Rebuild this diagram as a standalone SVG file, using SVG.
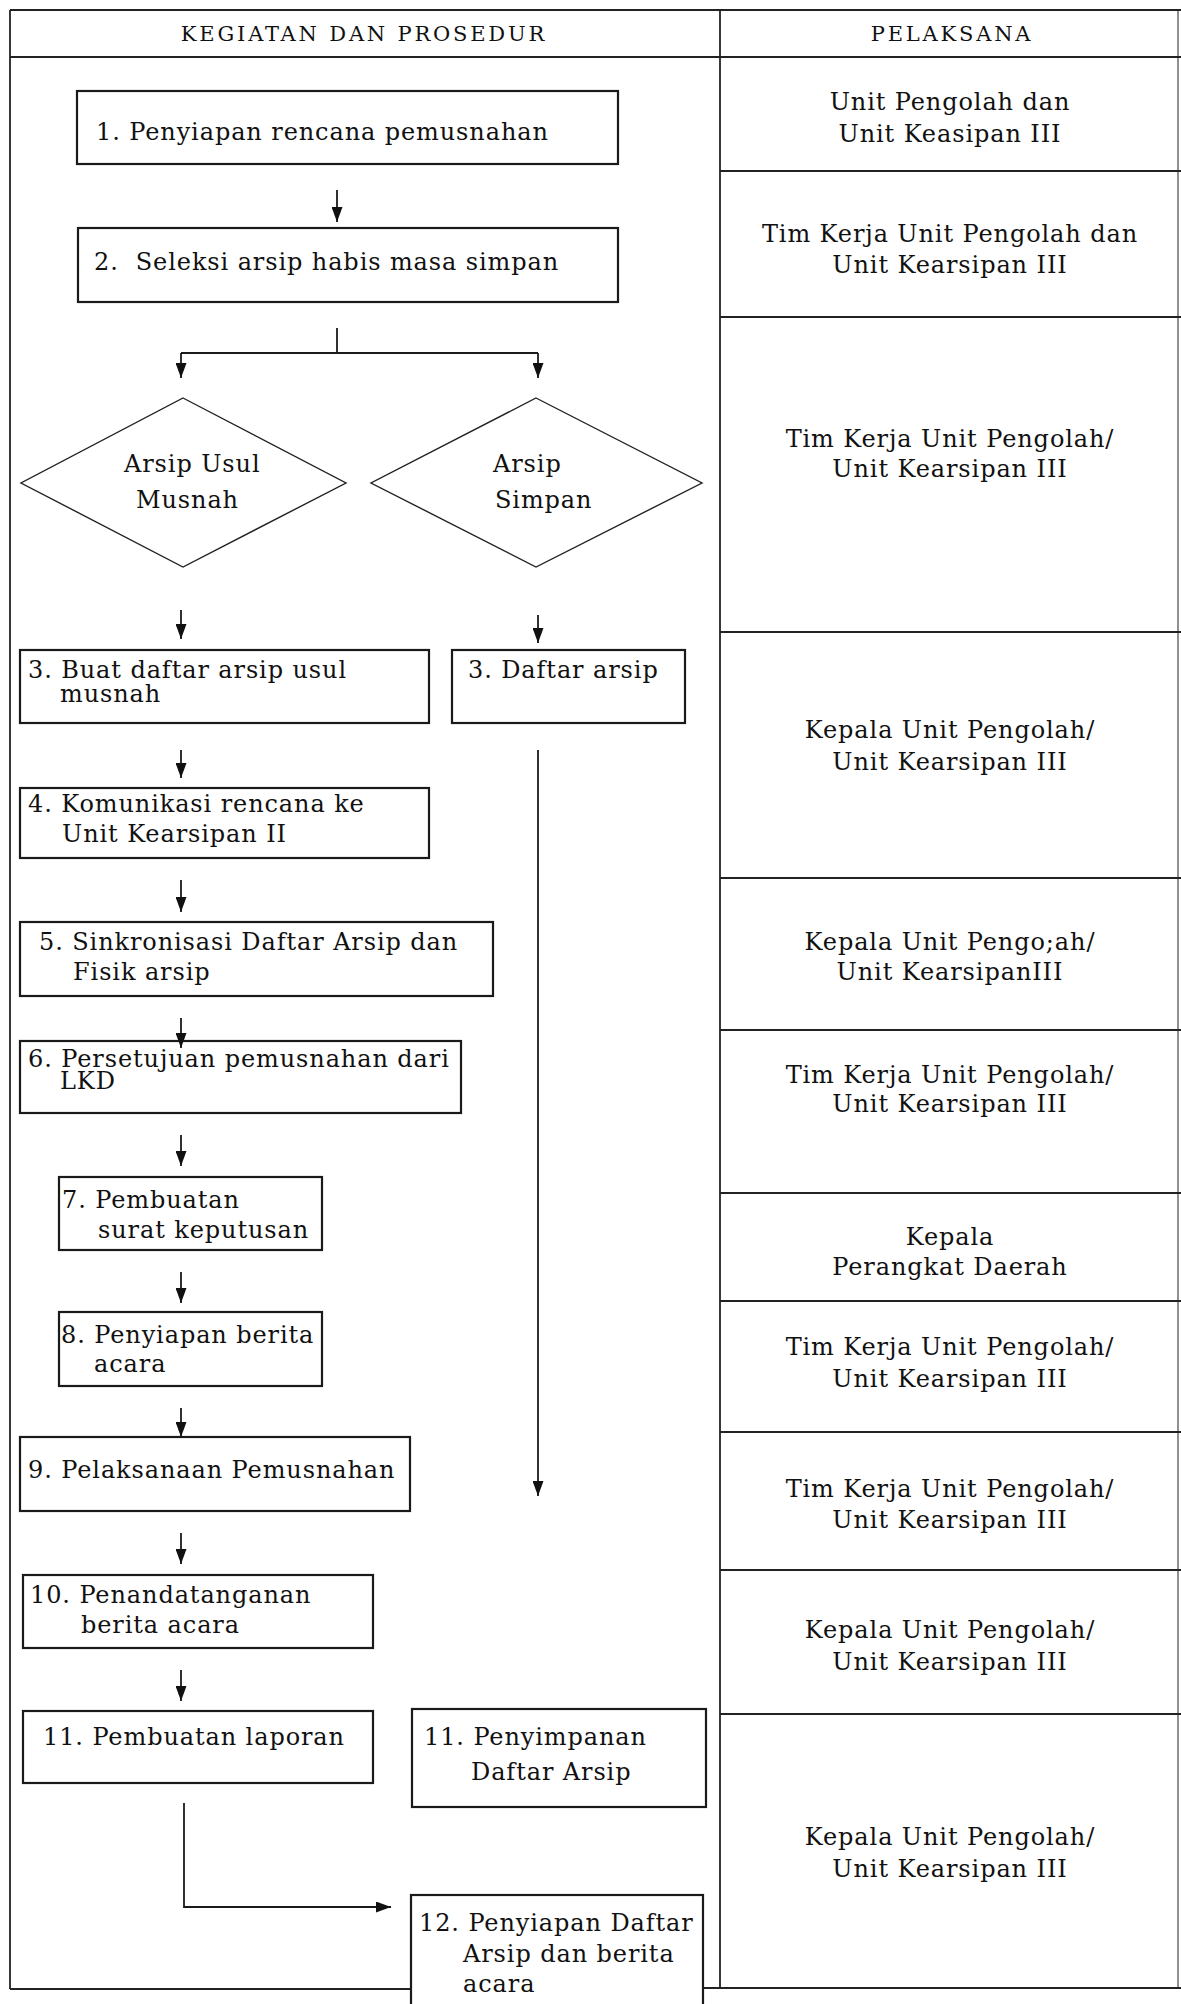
<svg xmlns="http://www.w3.org/2000/svg" width="1181" height="2004" viewBox="0 0 1181 2004">
<style>
  .bg { fill: #ffffff; }
  .tbl { fill: none; stroke: #222; stroke-width: 1.8; }
  .box { fill: #ffffff; stroke: #1a1a1a; stroke-width: 2.2; }
  .dia { fill: #ffffff; stroke: #222; stroke-width: 1.4; }
  .ln { fill: none; stroke: #1a1a1a; stroke-width: 1.8; }
  .arr { fill: none; stroke: #1a1a1a; stroke-width: 1.8; marker-end: url(#ah); }
  text { font-family: "DejaVu Serif", "Liberation Serif", serif; font-size: 24px; fill: #111; letter-spacing: 0.9px; }
  .hdr { font-size: 21px; letter-spacing: 2.8px; text-anchor: middle; }
  .pel { text-anchor: middle; }
</style>
<defs>
  <marker id="ah" viewBox="0 0 15 11" refX="15" refY="5.5" markerWidth="15" markerHeight="11" markerUnits="userSpaceOnUse" orient="auto">
    <path d="M0,0 L15,5.5 L0,11 z" fill="#111"/>
  </marker>
</defs>
<rect class="bg" x="0" y="0" width="1181" height="2004"/>

<g id="table">
  <line class="tbl" x1="10" y1="10" x2="1181" y2="10"/>
  <line class="tbl" x1="10" y1="57" x2="1181" y2="57"/>
  <line class="tbl" x1="10" y1="10" x2="10" y2="1989"/>
  <line class="tbl" x1="720" y1="10" x2="720" y2="1988"/>
  <line class="tbl" x1="1178" y1="10" x2="1178" y2="1988" style="stroke-width:1"/>
  <line class="tbl" x1="10" y1="1989" x2="411" y2="1989"/>
  <line class="tbl" x1="703" y1="1988" x2="1181" y2="1988"/>
  <line class="tbl" x1="720" y1="171" x2="1181" y2="171"/>
  <line class="tbl" x1="720" y1="317" x2="1181" y2="317"/>
  <line class="tbl" x1="720" y1="632" x2="1181" y2="632"/>
  <line class="tbl" x1="720" y1="878" x2="1181" y2="878"/>
  <line class="tbl" x1="720" y1="1030" x2="1181" y2="1030"/>
  <line class="tbl" x1="720" y1="1193" x2="1181" y2="1193"/>
  <line class="tbl" x1="720" y1="1301" x2="1181" y2="1301"/>
  <line class="tbl" x1="720" y1="1432" x2="1181" y2="1432"/>
  <line class="tbl" x1="720" y1="1570" x2="1181" y2="1570"/>
  <line class="tbl" x1="720" y1="1714" x2="1181" y2="1714"/>
  <text class="hdr" x="364" y="41">KEGIATAN DAN PROSEDUR</text>
  <text class="hdr" x="952" y="41">PELAKSANA</text>
</g>

<g id="pelaksana">
  <text class="pel" x="950" y="110">Unit Pengolah dan</text>
  <text class="pel" x="950" y="142">Unit Keasipan III</text>
  <text class="pel" x="950" y="242">Tim Kerja Unit Pengolah dan</text>
  <text class="pel" x="950" y="273">Unit Kearsipan III</text>
  <text class="pel" x="950" y="447">Tim Kerja Unit Pengolah/</text>
  <text class="pel" x="950" y="477">Unit Kearsipan III</text>
  <text class="pel" x="950" y="738">Kepala Unit Pengolah/</text>
  <text class="pel" x="950" y="770">Unit Kearsipan III</text>
  <text class="pel" x="950" y="950">Kepala Unit Pengo;ah/</text>
  <text class="pel" x="950" y="980">Unit KearsipanIII</text>
  <text class="pel" x="950" y="1083">Tim Kerja Unit Pengolah/</text>
  <text class="pel" x="950" y="1112">Unit Kearsipan III</text>
  <text class="pel" x="950" y="1245">Kepala</text>
  <text class="pel" x="950" y="1275">Perangkat Daerah</text>
  <text class="pel" x="950" y="1355">Tim Kerja Unit Pengolah/</text>
  <text class="pel" x="950" y="1387">Unit Kearsipan III</text>
  <text class="pel" x="950" y="1497">Tim Kerja Unit Pengolah/</text>
  <text class="pel" x="950" y="1528">Unit Kearsipan III</text>
  <text class="pel" x="950" y="1638">Kepala Unit Pengolah/</text>
  <text class="pel" x="950" y="1670">Unit Kearsipan III</text>
  <text class="pel" x="950" y="1845">Kepala Unit Pengolah/</text>
  <text class="pel" x="950" y="1877">Unit Kearsipan III</text>
</g>

<g id="n1">
  <rect class="box" x="77" y="91" width="541" height="73"/>
  <text x="96" y="140">1. Penyiapan rencana pemusnahan</text>
</g>
<g id="n2">
  <rect class="box" x="78" y="228" width="540" height="74"/>
  <text x="94" y="270" xml:space="preserve">2.  Seleksi arsip habis masa simpan</text>
</g>
<g id="d1">
  <polygon class="dia" points="183,398 346,483 183,567 21,483"/>
  <text x="124" y="472">Arsip Usul</text>
  <text x="136" y="508">Musnah</text>
</g>
<g id="d2">
  <polygon class="dia" points="536,398 702,483 536,567 371,483"/>
  <text x="493" y="472">Arsip</text>
  <text x="495" y="508">Simpan</text>
</g>
<g id="n3a">
  <rect class="box" x="20" y="650" width="409" height="73"/>
  <text x="28" y="678">3. Buat daftar arsip usul</text>
  <text x="60" y="702">musnah</text>
</g>
<g id="n3b">
  <rect class="box" x="452" y="650" width="233" height="73"/>
  <text x="468" y="678">3. Daftar arsip</text>
</g>
<g id="n4">
  <rect class="box" x="20" y="788" width="409" height="70"/>
  <text x="28" y="812">4. Komunikasi rencana ke</text>
  <text x="62" y="842">Unit Kearsipan II</text>
</g>
<g id="n5">
  <rect class="box" x="20" y="922" width="473" height="74"/>
  <text x="39" y="950">5. Sinkronisasi Daftar Arsip dan</text>
  <text x="73" y="980">Fisik arsip</text>
</g>
<g id="n6">
  <rect class="box" x="20" y="1041" width="441" height="72"/>
  <text x="28" y="1067">6. Persetujuan pemusnahan dari</text>
  <text x="60" y="1089">LKD</text>
</g>
<g id="n7">
  <rect class="box" x="59" y="1177" width="263" height="73"/>
  <text x="62" y="1208">7. Pembuatan</text>
  <text x="98" y="1238">surat keputusan</text>
</g>
<g id="n8">
  <rect class="box" x="59" y="1312" width="263" height="74"/>
  <text x="61" y="1343">8. Penyiapan berita</text>
  <text x="94" y="1372">acara</text>
</g>
<g id="n9">
  <rect class="box" x="20" y="1437" width="390" height="74"/>
  <text x="28" y="1478">9. Pelaksanaan Pemusnahan</text>
</g>
<g id="n10">
  <rect class="box" x="23" y="1575" width="350" height="73"/>
  <text x="30" y="1603">10. Penandatanganan</text>
  <text x="81" y="1633">berita acara</text>
</g>
<g id="n11a">
  <rect class="box" x="23" y="1711" width="350" height="72"/>
  <text x="43" y="1745">11. Pembuatan laporan</text>
</g>
<g id="n11b">
  <rect class="box" x="412" y="1709" width="294" height="98"/>
  <text x="424" y="1745">11. Penyimpanan</text>
  <text x="471" y="1780">Daftar Arsip</text>
</g>
<g id="n12">
  <rect class="box" x="411" y="1895" width="292" height="120"/>
  <text x="419" y="1931">12. Penyiapan Daftar</text>
  <text x="463" y="1962">Arsip dan berita</text>
  <text x="463" y="1992">acara</text>
</g>

<g id="connectors">
  <line class="arr" x1="337" y1="190" x2="337" y2="222"/>
  <line class="ln" x1="337" y1="328" x2="337" y2="352"/>
  <line class="ln" x1="181" y1="353" x2="538" y2="353"/>
  <line class="arr" x1="181" y1="353" x2="181" y2="378"/>
  <line class="arr" x1="538" y1="353" x2="538" y2="378"/>
  <line class="arr" x1="181" y1="610" x2="181" y2="639"/>
  <line class="arr" x1="538" y1="615" x2="538" y2="643"/>
  <line class="arr" x1="181" y1="750" x2="181" y2="778"/>
  <line class="arr" x1="538" y1="750" x2="538" y2="1496"/>
  <line class="arr" x1="181" y1="880" x2="181" y2="912"/>
  <line class="arr" x1="181" y1="1018" x2="181" y2="1048"/>
  <line class="arr" x1="181" y1="1135" x2="181" y2="1166"/>
  <line class="arr" x1="181" y1="1272" x2="181" y2="1303"/>
  <line class="arr" x1="181" y1="1408" x2="181" y2="1437"/>
  <line class="arr" x1="181" y1="1533" x2="181" y2="1564"/>
  <line class="arr" x1="181" y1="1670" x2="181" y2="1701"/>
  <polyline class="arr" points="184,1803 184,1907 391,1907"/>
</g>
</svg>
